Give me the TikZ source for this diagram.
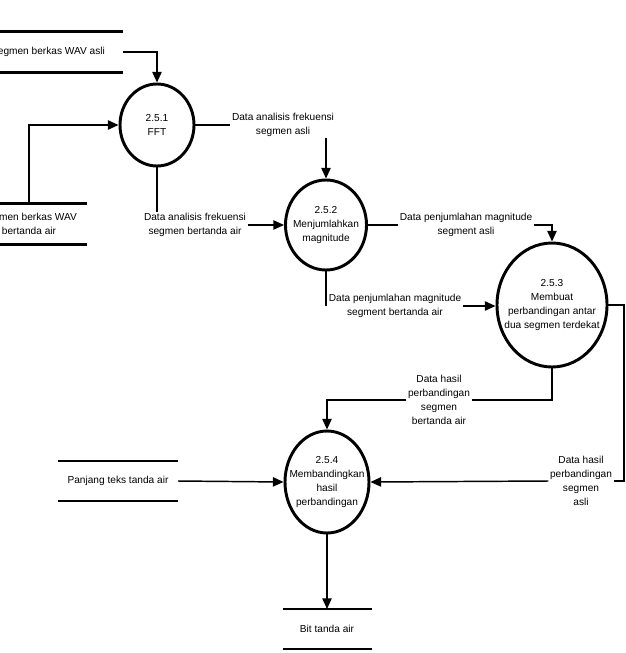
\documentclass[tikz,border=0pt]{standalone}
\usepackage{fontspec}
\setmainfont{Liberation Sans}
\usetikzlibrary{arrows.meta,shapes.geometric}

\begin{document}
\begin{tikzpicture}
    [x=0.75pt,y=-0.75pt,
    font=\fontsize{7.6}{10.6}\selectfont,
    process/.style={shape=ellipse,draw=black,line width=2.2pt,inner sep=0pt},
    store/.style={inner sep=0pt,outer sep=0pt,minimum height=30pt},
    storeline/.style={line width=2.2pt},
    flow/.style={align=center,inner sep=1pt},
    arc/.style={->,>={Triangle[length=8pt,width=7pt]},line width=1.1pt},
    edge/.style={line width=1.1pt}]

    \useasboundingbox (0,0) rectangle (625,653);

    \node (P1) [process,minimum width=55.5pt,minimum height=61.5pt,
      label={[align=center]center:2.5.1\\FFT}] at (157,125) {};
    \node (P2) [process,minimum width=60.75pt,minimum height=67.5pt,
      label={[align=center]center:2.5.2\\Menjumlahkan\\magnitude}] at (326,225) {};
    \node (P3) [process,minimum width=82.5pt,minimum height=93pt,
      label={[align=center]center:2.5.3\\Membuat\\perbandingan antar\\dua segmen terdekat}] at (552,305) {};
    \node (P4) [process,minimum width=63pt,minimum height=76.5pt,
      label={[align=center]center:2.5.4\\Membandingkan\\hasil\\perbandingan}] at (327,482) {};

    \node (S1) [store,minimum width=112.5pt,minimum height=30.75pt,align=center] at (48,52) {Segmen berkas WAV asli};
    \node (S2) [store,minimum width=87pt,minimum height=30.75pt,align=center] at (29,224) {Segmen berkas WAV\\bertanda air};
    \node (S3) [store,minimum width=90pt] at (118,481) {Panjang teks tanda air};
    \node (S4) [store,minimum width=66.75pt] at (327,629) {Bit tanda air};

    \draw [storeline] (S1.north west) -- (S1.north east) (S1.south west) -- (S1.south east);
    \draw [storeline] (S2.north west) -- (S2.north east) (S2.south west) -- (S2.south east);
    \draw [storeline] (S3.north west) -- (S3.north east) (S3.south west) -- (S3.south east);
    \draw [storeline] (S4.north west) -- (S4.north east) (S4.south west) -- (S4.south east);

    \node (F1) [flow] at (283,125) {Data analisis frekuensi\\segmen asli};
    \node (F2) [flow] at (195,225) {Data analisis frekuensi\\segmen bertanda air};
    \node (F3) [flow] at (466,225) {Data penjumlahan magnitude\\segment asli};
    \node (F4) [flow] at (395,306) {Data penjumlahan magnitude\\segment bertanda air};
    \node (F5) [flow] at (439,400) {Data hasil\\perbandingan\\segmen\\bertanda air};
    \node (F6) [flow] at (581,481) {Data hasil\\perbandingan\\segmen\\asli};
    \coordinate (R) at (624,481);

    \draw [arc] (S1.east) -| (P1.north);
    \draw [arc] (S2.north) |- (P1.west);
    \draw [edge] (P1.east) -- (F1.west);
    \draw [arc] (F1.south -| P2.north) -- (P2.north);
    \draw [edge] (P1.south) -- (P1.south |- F2.north);
    \draw [arc] (F2.east) -- (P2.west);
    \draw [edge] (P2.east) -- (F3.west);
    \draw [arc] (F3.east) -| (P3.north);
    \draw [edge] (P2.south) -- (P2.south |- F4);
    \draw [arc] (F4.east) -- (F4.east -| P3.west);
    \draw [edge] (P3.south) |- (F5.east);
    \draw [arc] (F5.west) -| (P4.north);
    \draw [arc] (S3.east) -- (P4.west);
    \draw [edge] (P3.east) -| (R) -- (F6.east);
    \draw [arc] (F6.west) -- (P4.east);
    \draw [arc] (P4.south) -- (S4.north);

\end{tikzpicture}
\end{document}
